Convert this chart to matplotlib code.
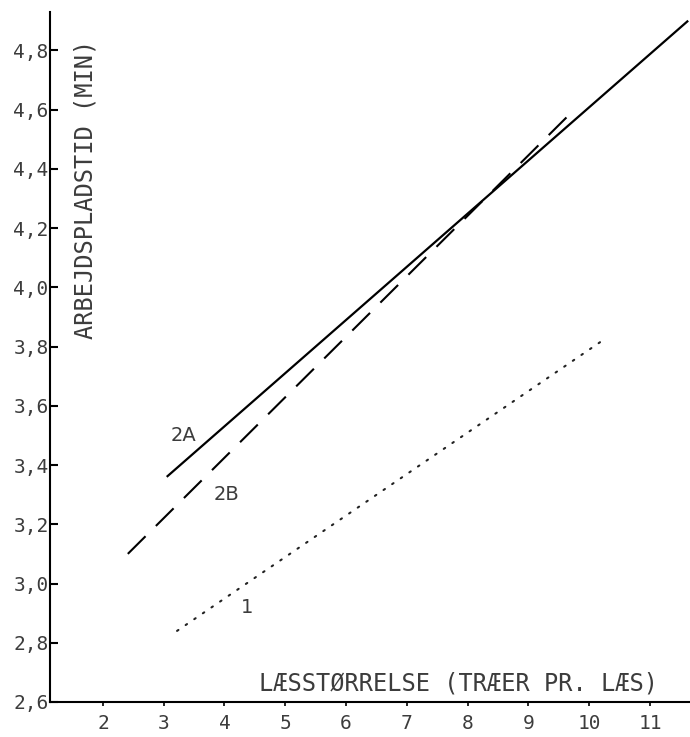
"""
Arbejdspladstid vs. læsstørrelse: three fitted lines (1, 2A, 2B).
"""
import matplotlib
matplotlib.use("Agg")
import matplotlib.pyplot as plt  # noqa: E402

# line endpoints
x_2a = [3.05, 11.63]
y_2a = [3.36, 4.90]
x_2b = [2.41, 9.66]
y_2b = [3.10, 4.58]
x_1 = [3.22, 10.29]
y_1 = [2.84, 3.83]

line_labels = ["2A", "2B", "1"]
label_x = [3.32, 4.04, 4.38]
label_y = [3.50, 3.30, 2.92]

x_ticks = [2, 3, 4, 5, 6, 7, 8, 9, 10, 11]
y_ticks = [2.6, 2.8, 3.0, 3.2, 3.4, 3.6, 3.8, 4.0, 4.2, 4.4, 4.6, 4.8]
y_ticklabels = ["2,6", "2,8", "3,0", "3,2", "3,4", "3,6", "3,8",
                "4,0", "4,2", "4,4", "4,6", "4,8"]

TXT = "#3c3c3c"
FONT = "DejaVu Sans Mono"

fig = plt.figure(figsize=(6.9, 7.37), dpi=100)
ax = fig.add_axes([0.0725, 0.0475, 0.9275, 0.9365])

ax.plot(x_2a, y_2a, color="black", lw=1.6, solid_capstyle="butt")
ax.plot(x_2b, y_2b, color="black", lw=1.5, linestyle=(0, (12, 7)))
ax.plot(x_1, y_1, color="#222222", lw=1.5, linestyle=(0, (0.8, 4.2)),
        dash_capstyle="round")

for lab, lx, ly in zip(line_labels, label_x, label_y):
    ax.text(lx, ly, lab, fontsize=14, color=TXT, family="DejaVu Sans",
            ha="center", va="center")

ax.set_xlim(1.13, 11.66)
ax.set_ylim(2.6, 4.93)

ax.set_xticks(x_ticks)
ax.set_xticklabels([str(v) for v in x_ticks], fontsize=14, color=TXT,
                   family=FONT)
ax.set_yticks(y_ticks)
ax.set_yticklabels(y_ticklabels, fontsize=14, color=TXT, family=FONT)
ax.tick_params(axis="y", direction="in", length=6, width=1.5, pad=1)
ax.tick_params(axis="x", direction="out", length=3, width=1.2, pad=6)

for side in ["top", "right"]:
    ax.spines[side].set_visible(False)
ax.spines["left"].set_linewidth(1.5)
ax.spines["bottom"].set_linewidth(1.5)

ax.text(0.055, 0.742, "ARBEJDSPLADSTID (MIN)", transform=ax.transAxes,
        rotation=90, ha="center", va="center", fontsize=17, color=TXT,
        family=FONT)
ax.text(0.6375, 0.0275, "LÆSSTØRRELSE (TRÆER PR. LÆS)",
        transform=ax.transAxes, ha="center", va="center", fontsize=17,
        color=TXT, family=FONT)

fig.savefig("out.png", dpi=100)
